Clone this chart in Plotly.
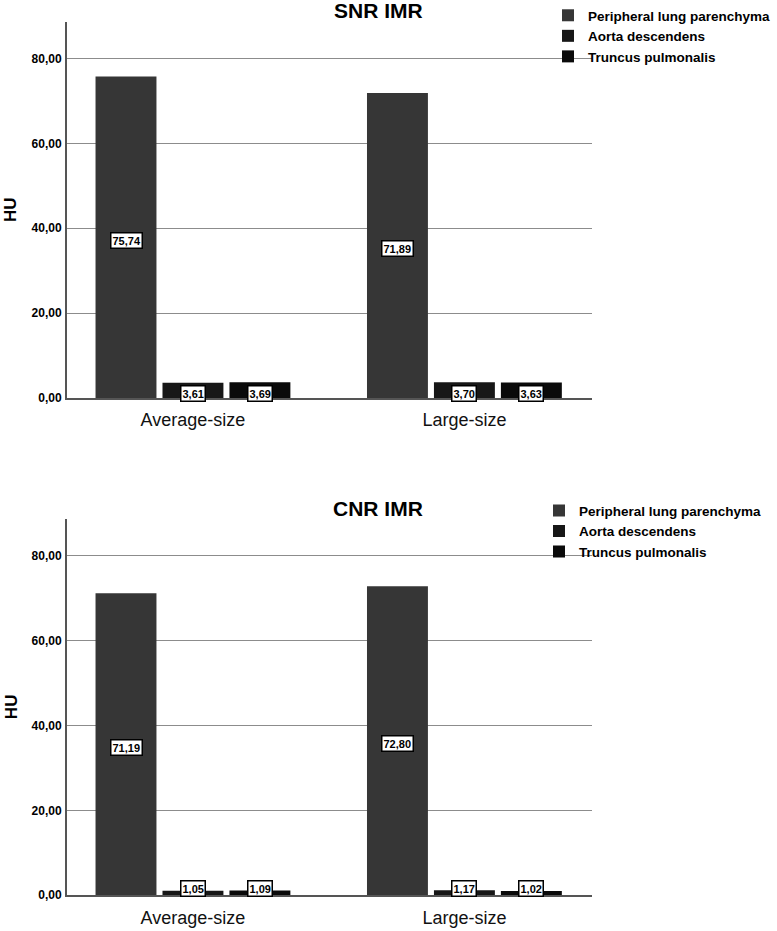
import plotly.graph_objects as go

categories = ["Average-size", "Large-size"]
series_names = ["Peripheral lung parenchyma", "Aorta descendens", "Truncus pulmonalis"]
snr_parenchyma = [75.74, 71.89]
snr_aorta = [3.61, 3.70]
snr_truncus = [3.69, 3.63]
cnr_parenchyma = [71.19, 72.80]
cnr_aorta = [1.05, 1.17]
cnr_truncus = [1.09, 1.02]
y_ticks = [0, 20, 40, 60, 80]

colors = ["#363636", "#171717", "#0a0a0a"]
FONT = "Arial, Liberation Sans, sans-serif"
W, H = 777, 931
BARGAP = 0.26
GROUPGAP = 0.09
YMAX = 88.65


def py(px):
    return 1 - px / H


panels = [
    dict(title="SNR IMR", data=[snr_parenchyma, snr_aorta, snr_truncus],
         top=22, bottom=401, xa="x", ya="y", leg="legend", title_y=11),
    dict(title="CNR IMR", data=[cnr_parenchyma, cnr_aorta, cnr_truncus],
         top=523, bottom=902, xa="x2", ya="y2", leg="legend2", title_y=512),
]

fig = go.Figure()
annotations = []
slot = (1 - BARGAP) / 3
px_per_unit = (401 - 22) / YMAX

for p in panels:
    for j, (name, vals) in enumerate(zip(series_names, p["data"])):
        fig.add_trace(go.Bar(
            x=categories, y=vals, name=name, marker=dict(color=colors[j], line=dict(width=0)),
            xaxis=p["xa"], yaxis=p["ya"], legend=p["leg"],
        ))
        for i, v in enumerate(vals):
            label = f"{v:.2f}".replace(".", ",")
            xpos = i + (j - 1) * slot
            if v / 2 * px_per_unit < 6:
                ann = dict(y=0, yanchor="bottom", yshift=-2)
            else:
                ann = dict(y=v / 2, yanchor="middle", yshift=-3)
            annotations.append(dict(
                x=xpos, xref=p["xa"], yref=p["ya"], text=f"<b>{label}</b>",
                showarrow=False, xanchor="center",
                font=dict(family=FONT, size=11, color="#000"),
                bgcolor="white", bordercolor="#000", borderwidth=1.5, borderpad=1,
                **ann,
            ))
    annotations.append(dict(
        x=378 / W, y=py(p["title_y"]), xref="paper", yref="paper",
        text=f"<b>{p['title']}</b>", showarrow=False, xanchor="center", yanchor="middle",
        font=dict(family=FONT, size=21, color="#000"),
    ))
    annotations.append(dict(
        x=11 / W, y=py((p["top"] + p["bottom"]) / 2), xref="paper", yref="paper",
        text="<b>HU</b>", textangle=-90, showarrow=False, xanchor="center", yanchor="middle",
        font=dict(family=FONT, size=17, color="#000"),
    ))

xdom = [67 / W, 592 / W]
xrange = [-0.464, 1.470]

axis_common_x = dict(
    type="category", range=xrange, domain=xdom, showgrid=False,
    showline=True, linecolor="#555", linewidth=1.5, ticks="", ticklabelstandoff=5,
    tickfont=dict(family=FONT, size=18, color="#111"), zeroline=False, fixedrange=True,
)
axis_common_y = dict(
    range=[0, YMAX], tickvals=y_ticks, tickformat=".2f", showgrid=True,
    gridcolor="#8c8c8c", gridwidth=1.3, showline=True, linecolor="#555", linewidth=2,
    ticks="", ticklabelstandoff=1, zeroline=False,
    tickfont=dict(family=FONT, size=12, color="#000", weight="bold"), fixedrange=True,
)

legend_common = dict(
    font=dict(family=FONT, size=13.5, color="#000", weight="bold"),
    bgcolor="rgba(0,0,0,0)", xanchor="left", yanchor="top", itemclick=False,
    traceorder="normal", itemwidth=30,
)

fig.update_layout(
    width=W, height=H, margin=dict(l=0, r=0, t=0, b=0),
    paper_bgcolor="white", plot_bgcolor="white",
    separators=",.",
    barmode="group", bargap=BARGAP, bargroupgap=GROUPGAP,
    xaxis=dict(**axis_common_x, anchor="y"),
    yaxis=dict(**axis_common_y, domain=[py(401), py(22)], anchor="x"),
    xaxis2=dict(**axis_common_x, anchor="y2"),
    yaxis2=dict(**axis_common_y, domain=[py(902), py(523)], anchor="x2"),
    legend=dict(**legend_common, x=548 / W, y=py(0)),
    legend2=dict(**legend_common, x=539 / W, y=py(499)),
    annotations=annotations,
    showlegend=True,
)

fig.write_html("out.html")
